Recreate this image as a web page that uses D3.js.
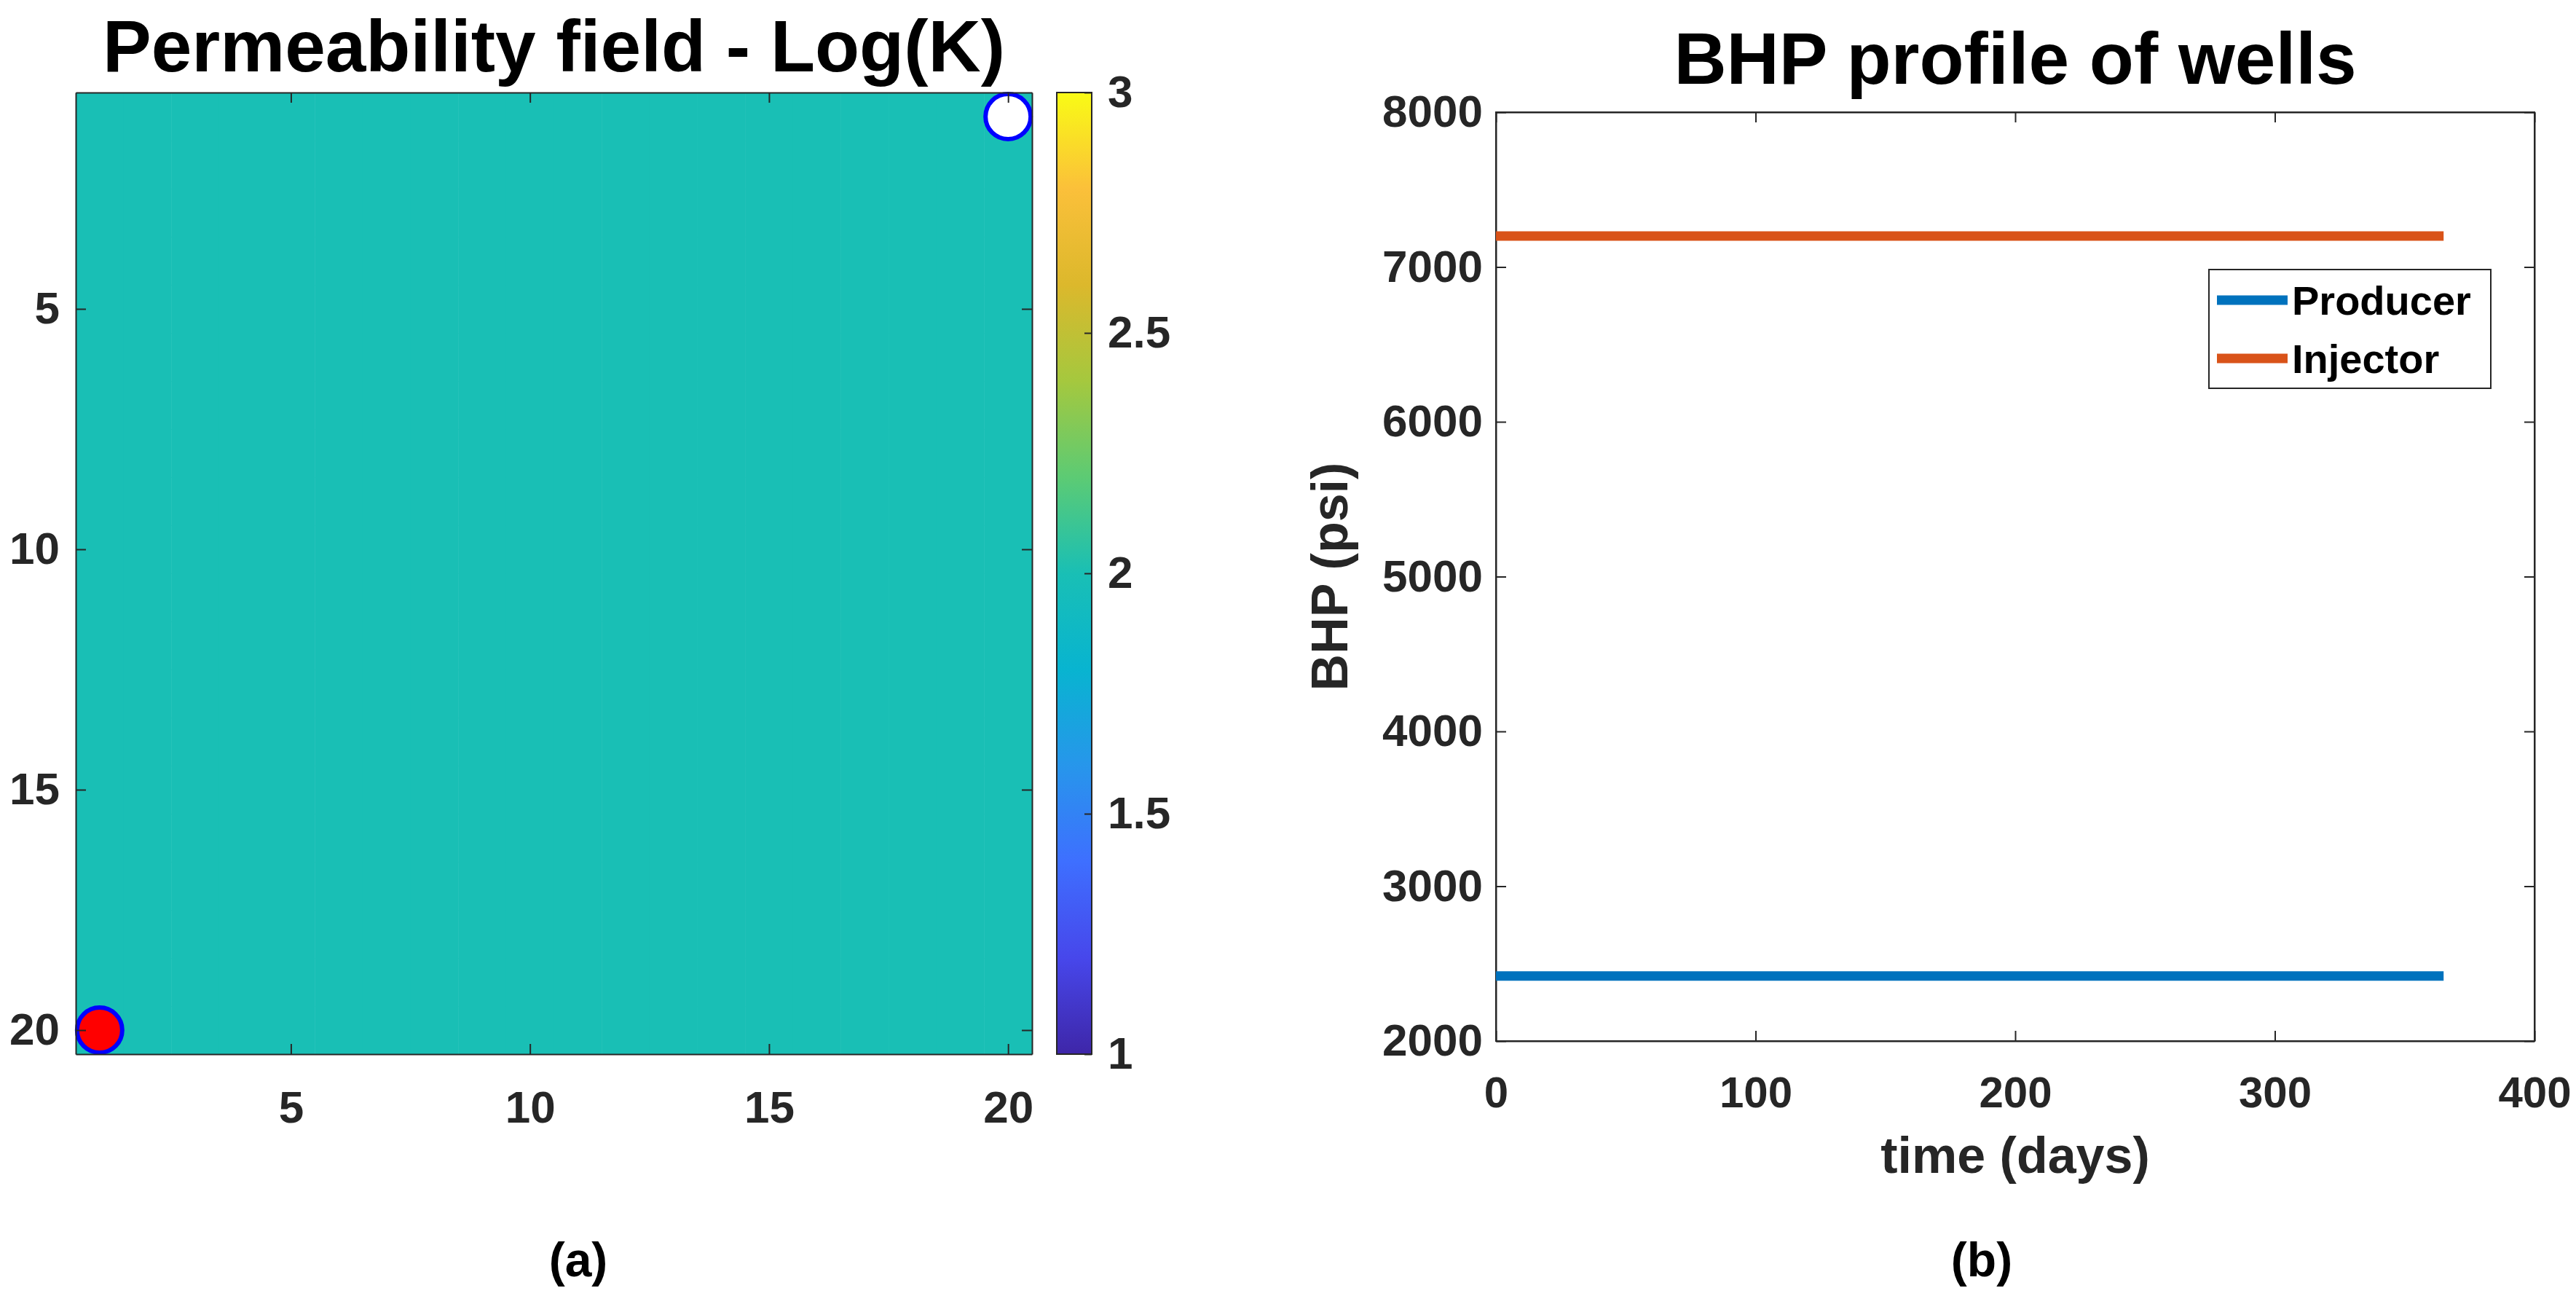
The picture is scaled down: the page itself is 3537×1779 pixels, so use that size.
<!DOCTYPE html>
<html>
<head>
<meta charset="utf-8">
<script src="https://cdn.jsdelivr.net/npm/d3@7"></script>
<style>
  body { margin: 0; background: #fff; }
  text { font-family: "Liberation Sans", Arial, sans-serif; font-weight: bold; }
</style>
</head>
<body>
<svg id="fig" width="3537" height="1779"></svg>
<script>
// permeability field: 20x20 grid, all log(K) = 2
const gridSize = 20;
const logK = 2;
const wells = [
  {name: "Injector", i: 20, j: 1, fill: "#ffffff"},
  {name: "Producer", i: 1, j: 20, fill: "#ff0000"}
];
const gridTicks = [5, 10, 15, 20];
const cbarTicks = [1, 1.5, 2, 2.5, 3];
const parula = ["#3e26a8", "#4747eb", "#3e6fff", "#2796eb", "#08b4d0", "#19bfb5",
                "#5ccb74", "#a5c83e", "#dcb82c", "#fbc03a", "#f9fb15"];

// BHP profiles
const days = [0, 365];
const producerBHP = [2420, 2420];
const injectorBHP = [7200, 7200];
const timeTicks = [0, 100, 200, 300, 400];
const bhpTicks = [2000, 3000, 4000, 5000, 6000, 7000, 8000];

const svg = d3.select("#fig");
const tickCol = "#262626";
const fmt = d3.format("d");

// ---------- panel (a) ----------
const a = {left: 104, right: 1417, top: 127, bottom: 1447};
const x = d3.scaleLinear().domain([0.5, 20.5]).range([a.left, a.right]);
const y = d3.scaleLinear().domain([0.5, 20.5]).range([a.top, a.bottom]);
const cval = d3.scaleLinear().domain([1, 3]).range([0, 1]);
const color = d3.scaleLinear()
  .domain(d3.range(parula.length).map(k => k / (parula.length - 1)))
  .range(parula);

const cells = [];
for (let i = 1; i <= gridSize; i++) for (let j = 1; j <= gridSize; j++) cells.push({i, j, v: logK});
svg.append("g").selectAll("rect").data(cells).join("rect")
  .attr("x", d => x(d.i - 0.5)).attr("y", d => y(d.j - 0.5))
  .attr("width", x(1.5) - x(0.5) + 0.5).attr("height", y(1.5) - y(0.5) + 0.5)
  .attr("fill", d => color(cval(d.v)));

svg.append("g").selectAll("ellipse").data(wells).join("ellipse")
  .attr("cx", d => x(d.i)).attr("cy", d => y(d.j))
  .attr("rx", 31).attr("ry", 31)
  .attr("fill", d => d.fill).attr("stroke", "#0000ff").attr("stroke-width", 6);

const gx = svg.append("g").attr("transform", `translate(0,${a.bottom})`)
  .call(d3.axisBottom(x).tickValues(gridTicks).tickSizeInner(-14).tickSizeOuter(0));
gx.selectAll("text").attr("y", 50).attr("font-size", 62);
const gy = svg.append("g").attr("transform", `translate(${a.left},0)`)
  .call(d3.axisLeft(y).tickValues(gridTicks).tickSizeInner(-14).tickSizeOuter(0));
gy.selectAll("text").attr("x", -22).attr("font-size", 62);
svg.append("g").attr("transform", `translate(0,${a.top})`)
  .call(d3.axisTop(x).tickValues(gridTicks).tickSizeInner(-14).tickSizeOuter(0)).selectAll("text").remove();
svg.append("g").attr("transform", `translate(${a.right},0)`)
  .call(d3.axisRight(y).tickValues(gridTicks).tickSizeInner(-14).tickSizeOuter(0)).selectAll("text").remove();

svg.append("text").attr("x", (a.left + a.right) / 2).attr("y", 98)
  .attr("text-anchor", "middle").attr("font-size", 100).text("Permeability field - Log(K)");

// colorbar
const cb = {left: 1451, right: 1499};
const cy = d3.scaleLinear().domain([1, 3]).range([a.bottom, a.top]);
const grad = svg.append("defs").append("linearGradient").attr("id", "parula")
  .attr("x1", 0).attr("y1", 1).attr("x2", 0).attr("y2", 0);
grad.selectAll("stop").data(parula).join("stop")
  .attr("offset", (d, k) => k / (parula.length - 1)).attr("stop-color", d => d);
svg.append("rect").attr("x", cb.left).attr("y", a.top)
  .attr("width", cb.right - cb.left).attr("height", a.bottom - a.top)
  .attr("fill", "url(#parula)").attr("stroke", tickCol).attr("stroke-width", 2);
const gc = svg.append("g").attr("transform", `translate(${cb.right},0)`)
  .call(d3.axisRight(cy).tickValues(cbarTicks).tickFormat(d3.format("")).tickSizeInner(-10).tickSizeOuter(0));
gc.select(".domain").remove();
gc.selectAll("text").attr("x", 22).attr("font-size", 62);

svg.append("text").attr("x", 794).attr("y", 1752).attr("text-anchor", "middle")
  .attr("font-size", 66).attr("font-family", "Liberation Serif, serif").attr("font-weight", "normal")
  .html('(<tspan font-weight="bold">a</tspan>)');

// ---------- panel (b) ----------
const b = {left: 2054, right: 3480, top: 154, bottom: 1429};
const tx = d3.scaleLinear().domain([0, 400]).range([b.left, b.right]);
const by = d3.scaleLinear().domain([2000, 8000]).range([b.bottom, b.top]);

svg.append("rect").attr("x", b.left).attr("y", b.top)
  .attr("width", b.right - b.left).attr("height", b.bottom - b.top)
  .attr("fill", "none").attr("stroke", tickCol).attr("stroke-width", 2);

const gbx = svg.append("g").attr("transform", `translate(0,${b.bottom})`)
  .call(d3.axisBottom(tx).tickValues(timeTicks).tickFormat(fmt).tickSizeInner(-14).tickSizeOuter(0));
gbx.selectAll("text").attr("y", 48).attr("font-size", 60);
const gby = svg.append("g").attr("transform", `translate(${b.left},0)`)
  .call(d3.axisLeft(by).tickValues(bhpTicks).tickFormat(fmt).tickSizeInner(-14).tickSizeOuter(0));
gby.selectAll("text").attr("x", -18).attr("font-size", 62);
svg.append("g").attr("transform", `translate(0,${b.top})`)
  .call(d3.axisTop(tx).tickValues(timeTicks).tickSizeInner(-14).tickSizeOuter(0)).selectAll("text").remove();
svg.append("g").attr("transform", `translate(${b.right},0)`)
  .call(d3.axisRight(by).tickValues(bhpTicks).tickSizeInner(-14).tickSizeOuter(0)).selectAll("text").remove();

svg.selectAll(".domain").attr("stroke", tickCol).attr("stroke-width", 2);
svg.selectAll(".tick line").attr("stroke", tickCol).attr("stroke-width", 2);
svg.selectAll(".tick text").attr("fill", tickCol).attr("font-family", "Liberation Sans, Arial").attr("font-weight", "bold");

const series = [
  {name: "Producer", values: producerBHP, color: "#0072bd"},
  {name: "Injector", values: injectorBHP, color: "#d95319"}
];
const line = d3.line().x((d, k) => tx(days[k])).y(d => by(d));
svg.append("g").selectAll("path").data(series).join("path")
  .attr("d", d => line(d.values)).attr("fill", "none")
  .attr("stroke", d => d.color).attr("stroke-width", 13);

svg.append("text").attr("x", (b.left + b.right) / 2).attr("y", 115)
  .attr("text-anchor", "middle").attr("font-size", 100).text("BHP profile of wells");
svg.append("text").attr("x", (b.left + b.right) / 2).attr("y", 1610)
  .attr("text-anchor", "middle").attr("font-size", 70).attr("fill", tickCol).text("time (days)");
svg.append("text").attr("transform", `translate(1850,${(b.top + b.bottom) / 2}) rotate(-90)`)
  .attr("text-anchor", "middle").attr("font-size", 70).attr("fill", tickCol).text("BHP (psi)");

// legend
const lg = svg.append("g").attr("transform", "translate(3033,370)");
lg.append("rect").attr("width", 387).attr("height", 163)
  .attr("fill", "#fff").attr("stroke", tickCol).attr("stroke-width", 2);
const li = lg.selectAll("g").data(series).join("g")
  .attr("transform", (d, k) => `translate(0,${42 + k * 80})`);
li.append("line").attr("x1", 11).attr("x2", 108).attr("stroke", d => d.color).attr("stroke-width", 13);
li.append("text").attr("x", 114).attr("y", 20).attr("font-size", 56).text(d => d.name);

svg.append("text").attr("x", 2721).attr("y", 1752).attr("text-anchor", "middle")
  .attr("font-size", 66).attr("font-family", "Liberation Serif, serif").attr("font-weight", "normal")
  .html('(<tspan font-weight="bold">b</tspan>)');
</script>
</body>
</html>
